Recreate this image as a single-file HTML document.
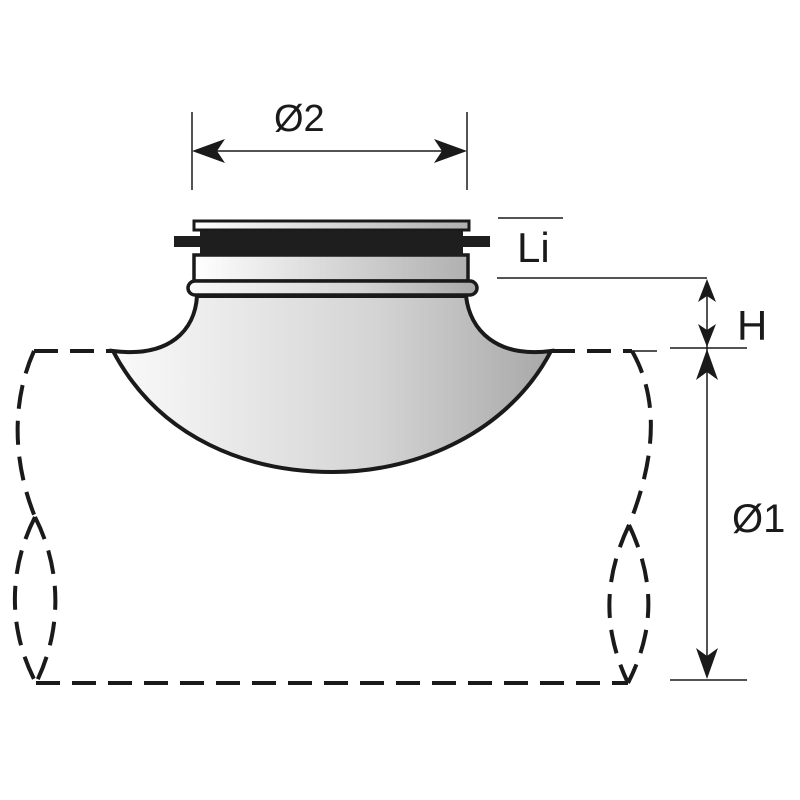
<!DOCTYPE html>
<html><head><meta charset="utf-8"><style>html,body{margin:0;background:#fff}svg{display:block}</style></head>
<body>
<svg width="800" height="800" viewBox="0 0 800 800" xmlns="http://www.w3.org/2000/svg">
<defs>
<linearGradient id="g" x1="0" x2="1" y1="0" y2="0">
<stop offset="0" stop-color="#fafafa"/><stop offset="0.6" stop-color="#d4d4d4"/><stop offset="1" stop-color="#a8a8a8"/>
</linearGradient>
<linearGradient id="g2" x1="0" x2="1" y1="0" y2="0">
<stop offset="0" stop-color="#ffffff"/><stop offset="1" stop-color="#b0b0b0"/>
</linearGradient>
</defs>
<g fill="none" stroke="#1a1a1a" stroke-width="4" stroke-dasharray="24,12">
<path d="M34,351 L113,351"/>
<path d="M551,351 L632,351"/>
<path d="M36,683 L628,683"/>
<path d="M34,351 C12,400 12,460 35,517"/>
<path d="M35,517 C8,570 8,630 36,683"/>
<path d="M35,517 C62,570 62,630 36,683"/>
<path d="M632,351 C660,400 655,460 629,525"/>
<path d="M629,525 C603,580 603,630 628,683"/>
<path d="M629,525 C655,580 655,630 628,683"/>
</g>
<path d="M632,351 L657,351" stroke="#1a1a1a" stroke-width="1.5"/>
<path d="M197,296 C195,330 170,358 113,351 C160,440 250,472 333,472 C420,472 510,430 551,351 C496,358 470,330 466,296 Z" fill="url(#g)" stroke="#1a1a1a" stroke-width="4"/>
<rect x="194" y="255" width="274" height="26" fill="url(#g2)" stroke="#1a1a1a" stroke-width="3.5"/>
<rect x="188" y="281" width="289" height="14" rx="7" fill="url(#g)" stroke="#1a1a1a" stroke-width="3.5"/>
<rect x="194" y="221" width="275" height="9" fill="url(#g2)" stroke="#1a1a1a" stroke-width="3"/>
<rect x="200" y="231" width="263" height="25" fill="#1e1e1e"/>
<rect x="174" y="236" width="316" height="11" fill="#1e1e1e"/>
<g stroke="#1a1a1a" stroke-width="1.5">
<line x1="192" y1="112" x2="192" y2="190"/>
<line x1="467" y1="112" x2="467" y2="190"/>
<line x1="200" y1="151" x2="460" y2="151"/>
<line x1="498" y1="218" x2="563" y2="218"/>
<line x1="497" y1="278" x2="707" y2="278"/>
<line x1="670" y1="348" x2="747" y2="348"/>
<line x1="670" y1="680" x2="747" y2="680"/>
<line x1="707" y1="285" x2="707" y2="672"/>
</g>
<g fill="#1a1a1a">
<path d="M192,151 L225,139 L217,151 L225,163 Z"/>
<path d="M467,151 L434,139 L442,151 L434,163 Z"/>
<path d="M707,279 L698,302 L707,296 L716,302 Z"/>
<path d="M707,347 L698,324 L707,330 L716,324 Z"/>
<path d="M707,349 L696,380 L707,372 L718,380 Z"/>
<path d="M707,679 L696,648 L707,656 L718,648 Z"/>
</g>
<g font-family="Liberation Sans, sans-serif" fill="#1a1a1a">
<text x="274" y="131" font-size="38">Ø2</text>
<text x="517" y="262" font-size="42">Li</text>
<text x="737" y="340" font-size="42">H</text>
<text x="732" y="532" font-size="40">Ø1</text>
</g>
</svg>
</body></html>
